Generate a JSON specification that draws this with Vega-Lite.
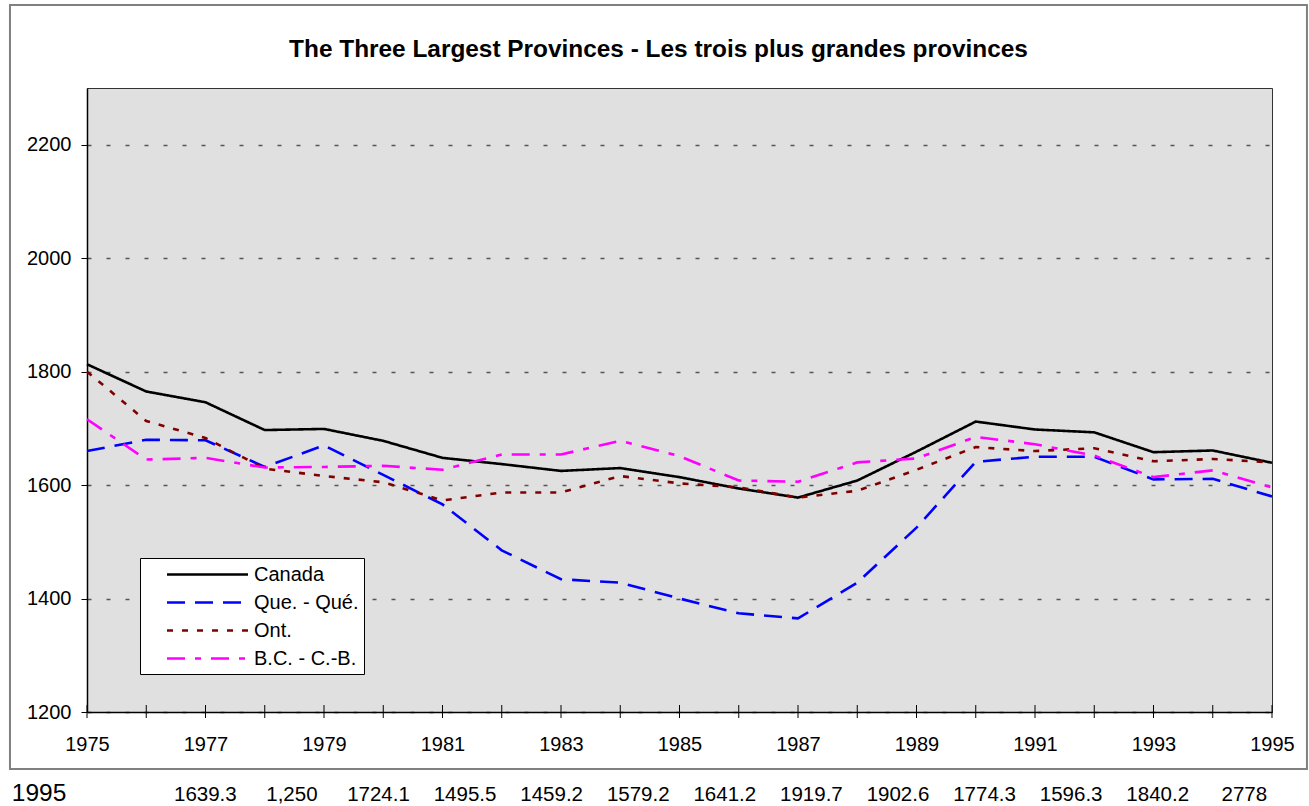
{
  "$schema": "https://vega.github.io/schema/vega-lite/v6.json",
  "width": 1185,
  "height": 624,
  "autosize": {"type": "none"},
  "padding": {"left": 87, "top": 88, "right": 37, "bottom": 94},
  "background": "white",
  "title": {
    "text": "The Three Largest Provinces - Les trois plus grandes provinces",
    "font": "Liberation Sans",
    "fontSize": 24.4,
    "fontWeight": "bold",
    "color": "black",
    "anchor": "middle",
    "frame": "bounds",
    "offset": -78,
    "baseline": "alphabetic"
  },
  "config": {
    "font": "Liberation Sans",
    "view": {"fill": "#E0E0E0", "stroke": "#333333", "strokeWidth": 1},
    "axis": {"labelFont": "Liberation Sans", "labelFontSize": 20, "labelColor": "black", "domainColor": "black", "tickColor": "black", "title": null}
  },
  "datasets": {
    "main": [
      {"year": 1975, "series": "Canada", "value": 1813},
      {"year": 1976, "series": "Canada", "value": 1765},
      {"year": 1977, "series": "Canada", "value": 1746},
      {"year": 1978, "series": "Canada", "value": 1697},
      {"year": 1979, "series": "Canada", "value": 1699},
      {"year": 1980, "series": "Canada", "value": 1678},
      {"year": 1981, "series": "Canada", "value": 1648},
      {"year": 1982, "series": "Canada", "value": 1637},
      {"year": 1983, "series": "Canada", "value": 1625},
      {"year": 1984, "series": "Canada", "value": 1630},
      {"year": 1985, "series": "Canada", "value": 1614},
      {"year": 1986, "series": "Canada", "value": 1594},
      {"year": 1987, "series": "Canada", "value": 1578},
      {"year": 1988, "series": "Canada", "value": 1608},
      {"year": 1989, "series": "Canada", "value": 1659},
      {"year": 1990, "series": "Canada", "value": 1712},
      {"year": 1991, "series": "Canada", "value": 1698},
      {"year": 1992, "series": "Canada", "value": 1693},
      {"year": 1993, "series": "Canada", "value": 1658},
      {"year": 1994, "series": "Canada", "value": 1661},
      {"year": 1995, "series": "Canada", "value": 1639.3},
      {"year": 1975, "series": "Que. - Qué.", "value": 1660},
      {"year": 1976, "series": "Que. - Qué.", "value": 1680},
      {"year": 1977, "series": "Que. - Qué.", "value": 1679},
      {"year": 1978, "series": "Que. - Qué.", "value": 1632},
      {"year": 1979, "series": "Que. - Qué.", "value": 1670},
      {"year": 1980, "series": "Que. - Qué.", "value": 1618},
      {"year": 1981, "series": "Que. - Qué.", "value": 1566},
      {"year": 1982, "series": "Que. - Qué.", "value": 1485},
      {"year": 1983, "series": "Que. - Qué.", "value": 1434},
      {"year": 1984, "series": "Que. - Qué.", "value": 1428},
      {"year": 1985, "series": "Que. - Qué.", "value": 1400},
      {"year": 1986, "series": "Que. - Qué.", "value": 1374},
      {"year": 1987, "series": "Que. - Qué.", "value": 1365},
      {"year": 1988, "series": "Que. - Qué.", "value": 1428},
      {"year": 1989, "series": "Que. - Qué.", "value": 1525},
      {"year": 1990, "series": "Que. - Qué.", "value": 1641},
      {"year": 1991, "series": "Que. - Qué.", "value": 1650},
      {"year": 1992, "series": "Que. - Qué.", "value": 1650},
      {"year": 1993, "series": "Que. - Qué.", "value": 1610},
      {"year": 1994, "series": "Que. - Qué.", "value": 1611},
      {"year": 1995, "series": "Que. - Qué.", "value": 1580},
      {"year": 1975, "series": "Ont.", "value": 1800},
      {"year": 1976, "series": "Ont.", "value": 1713},
      {"year": 1977, "series": "Ont.", "value": 1683},
      {"year": 1978, "series": "Ont.", "value": 1629},
      {"year": 1979, "series": "Ont.", "value": 1616},
      {"year": 1980, "series": "Ont.", "value": 1605},
      {"year": 1981, "series": "Ont.", "value": 1573},
      {"year": 1982, "series": "Ont.", "value": 1587},
      {"year": 1983, "series": "Ont.", "value": 1587},
      {"year": 1984, "series": "Ont.", "value": 1616},
      {"year": 1985, "series": "Ont.", "value": 1603},
      {"year": 1986, "series": "Ont.", "value": 1596},
      {"year": 1987, "series": "Ont.", "value": 1578},
      {"year": 1988, "series": "Ont.", "value": 1590},
      {"year": 1989, "series": "Ont.", "value": 1627},
      {"year": 1990, "series": "Ont.", "value": 1667},
      {"year": 1991, "series": "Ont.", "value": 1660},
      {"year": 1992, "series": "Ont.", "value": 1665},
      {"year": 1993, "series": "Ont.", "value": 1642},
      {"year": 1994, "series": "Ont.", "value": 1646},
      {"year": 1995, "series": "Ont.", "value": 1640},
      {"year": 1975, "series": "B.C. - C.-B.", "value": 1716},
      {"year": 1976, "series": "B.C. - C.-B.", "value": 1645},
      {"year": 1977, "series": "B.C. - C.-B.", "value": 1648},
      {"year": 1978, "series": "B.C. - C.-B.", "value": 1631},
      {"year": 1979, "series": "B.C. - C.-B.", "value": 1632},
      {"year": 1980, "series": "B.C. - C.-B.", "value": 1634},
      {"year": 1981, "series": "B.C. - C.-B.", "value": 1627},
      {"year": 1982, "series": "B.C. - C.-B.", "value": 1654},
      {"year": 1983, "series": "B.C. - C.-B.", "value": 1654},
      {"year": 1984, "series": "B.C. - C.-B.", "value": 1678},
      {"year": 1985, "series": "B.C. - C.-B.", "value": 1651},
      {"year": 1986, "series": "B.C. - C.-B.", "value": 1608},
      {"year": 1987, "series": "B.C. - C.-B.", "value": 1606},
      {"year": 1988, "series": "B.C. - C.-B.", "value": 1640},
      {"year": 1989, "series": "B.C. - C.-B.", "value": 1647},
      {"year": 1990, "series": "B.C. - C.-B.", "value": 1685},
      {"year": 1991, "series": "B.C. - C.-B.", "value": 1672},
      {"year": 1992, "series": "B.C. - C.-B.", "value": 1652},
      {"year": 1993, "series": "B.C. - C.-B.", "value": 1614},
      {"year": 1994, "series": "B.C. - C.-B.", "value": 1626},
      {"year": 1995, "series": "B.C. - C.-B.", "value": 1596}
    ],
    "cells": [
      {"col": 1, "label": "1639.3"},
      {"col": 2, "label": "1,250"},
      {"col": 3, "label": "1724.1"},
      {"col": 4, "label": "1495.5"},
      {"col": 5, "label": "1459.2"},
      {"col": 6, "label": "1579.2"},
      {"col": 7, "label": "1641.2"},
      {"col": 8, "label": "1919.7"},
      {"col": 9, "label": "1902.6"},
      {"col": 10, "label": "1774.3"},
      {"col": 11, "label": "1596.3"},
      {"col": 12, "label": "1840.2"},
      {"col": 13, "label": "2778"}
    ],
    "header": [
      {"label": "1995"}
    ]
  },
  "layer": [
    {
      "layer": [
        {
          "data": {"values": [{}]},
          "mark": {"type": "rect", "fillOpacity": 0, "stroke": "#808080", "strokeWidth": 2},
          "encoding": {
            "x": {"datum": 1973.70, "type": "quantitative", "scale": {"domain": [1975, 1995], "nice": false, "zero": false}},
            "x2": {"datum": 1995.59},
            "y": {"datum": 2446.5, "type": "quantitative", "scale": {"domain": [1200, 2300], "nice": false, "zero": false}},
            "y2": {"datum": 1099.6}
          }
        },
        {
          "data": {"name": "main"},
          "mark": {"type": "line", "strokeWidth": 2.6},
          "encoding": {
            "x": {
              "field": "year", "type": "quantitative",
              "scale": {"domain": [1975, 1995], "nice": false, "zero": false},
              "axis": {"values": [1975, 1977, 1979, 1981, 1983, 1985, 1987, 1989, 1991, 1993, 1995], "format": "d", "ticks": false, "labelPadding": 22, "grid": false, "domainWidth": 1.5, "labelFlush": false}
            },
            "y": {
              "field": "value", "type": "quantitative",
              "scale": {"domain": [1200, 2300], "nice": false, "zero": false},
              "axis": {"values": [1200, 1400, 1600, 1800, 2000, 2200], "format": "d", "tickSize": 6, "labelPadding": 10, "grid": true, "gridDash": [4, 15], "gridColor": "#555555", "gridWidth": 1.5, "domainWidth": 1.5}
            },
            "color": {
              "field": "series", "type": "nominal",
              "scale": {"domain": ["Canada", "Que. - Qué.", "Ont.", "B.C. - C.-B."], "range": ["#000000", "#0000FF", "#800000", "#FF00FF"]},
              "legend": {"orient": "none", "legendX": 53, "legendY": 470, "direction": "vertical", "title": null, "fillColor": "white", "strokeColor": "black", "padding": 5, "rowPadding": 6, "symbolOffset": 51, "symbolType": "M-4,0H4", "symbolSize": 410, "symbolStrokeWidth": 2.5, "labelOffset": 35, "labelFontSize": 20, "labelFont": "Liberation Sans", "labelColor": "black", "labelLimit": 300}
            },
            "strokeDash": {
              "field": "series", "type": "nominal",
              "scale": {"domain": ["Canada", "Que. - Qué.", "Ont.", "B.C. - C.-B."], "range": [[1, 0], [18, 10], [6, 9], [18, 10, 6, 10]]},
              "legend": {"orient": "none", "legendX": 53, "legendY": 470, "direction": "vertical", "title": null, "fillColor": "white", "strokeColor": "black", "padding": 5, "rowPadding": 6, "symbolOffset": 51, "symbolType": "M-4,0H4", "symbolSize": 410, "symbolStrokeWidth": 2.5, "labelOffset": 35, "labelFontSize": 20, "labelFont": "Liberation Sans", "labelColor": "black", "labelLimit": 300}
            }
          }
        },
        {
          "data": {"name": "main"},
          "transform": [{"filter": "datum.series === 'Canada'"}],
          "mark": {"type": "rule", "color": "black", "strokeWidth": 1},
          "encoding": {
            "x": {"field": "year", "type": "quantitative", "scale": {"domain": [1975, 1995], "nice": false, "zero": false}},
            "y": {"datum": 1212.3, "type": "quantitative", "scale": {"domain": [1200, 2300], "nice": false, "zero": false}},
            "y2": {"datum": 1189.4}
          }
        }
      ]
    },
    {
      "layer": [
        {
          "data": {"name": "header"},
          "mark": {"type": "text", "font": "Liberation Sans", "fontSize": 24.5, "align": "center", "baseline": "alphabetic", "color": "black"},
          "encoding": {
            "x": {"datum": -0.92, "type": "quantitative", "scale": {"domain": [-0.3666, 13.32], "nice": false, "zero": false}, "axis": null},
            "y": {"datum": 1043, "type": "quantitative", "scale": {"domain": [1200, 2300], "nice": false, "zero": false}},
            "text": {"field": "label"}
          }
        },
        {
          "data": {"name": "cells"},
          "mark": {"type": "text", "font": "Liberation Sans", "fontSize": 20.5, "align": "center", "baseline": "alphabetic", "color": "black"},
          "encoding": {
            "x": {"field": "col", "type": "quantitative", "scale": {"domain": [-0.3666, 13.32], "nice": false, "zero": false}, "axis": null},
            "y": {"datum": 1043, "type": "quantitative", "scale": {"domain": [1200, 2300], "nice": false, "zero": false}},
            "text": {"field": "label"}
          }
        }
      ]
    }
  ],
  "resolve": {"scale": {"x": "independent"}}
}
